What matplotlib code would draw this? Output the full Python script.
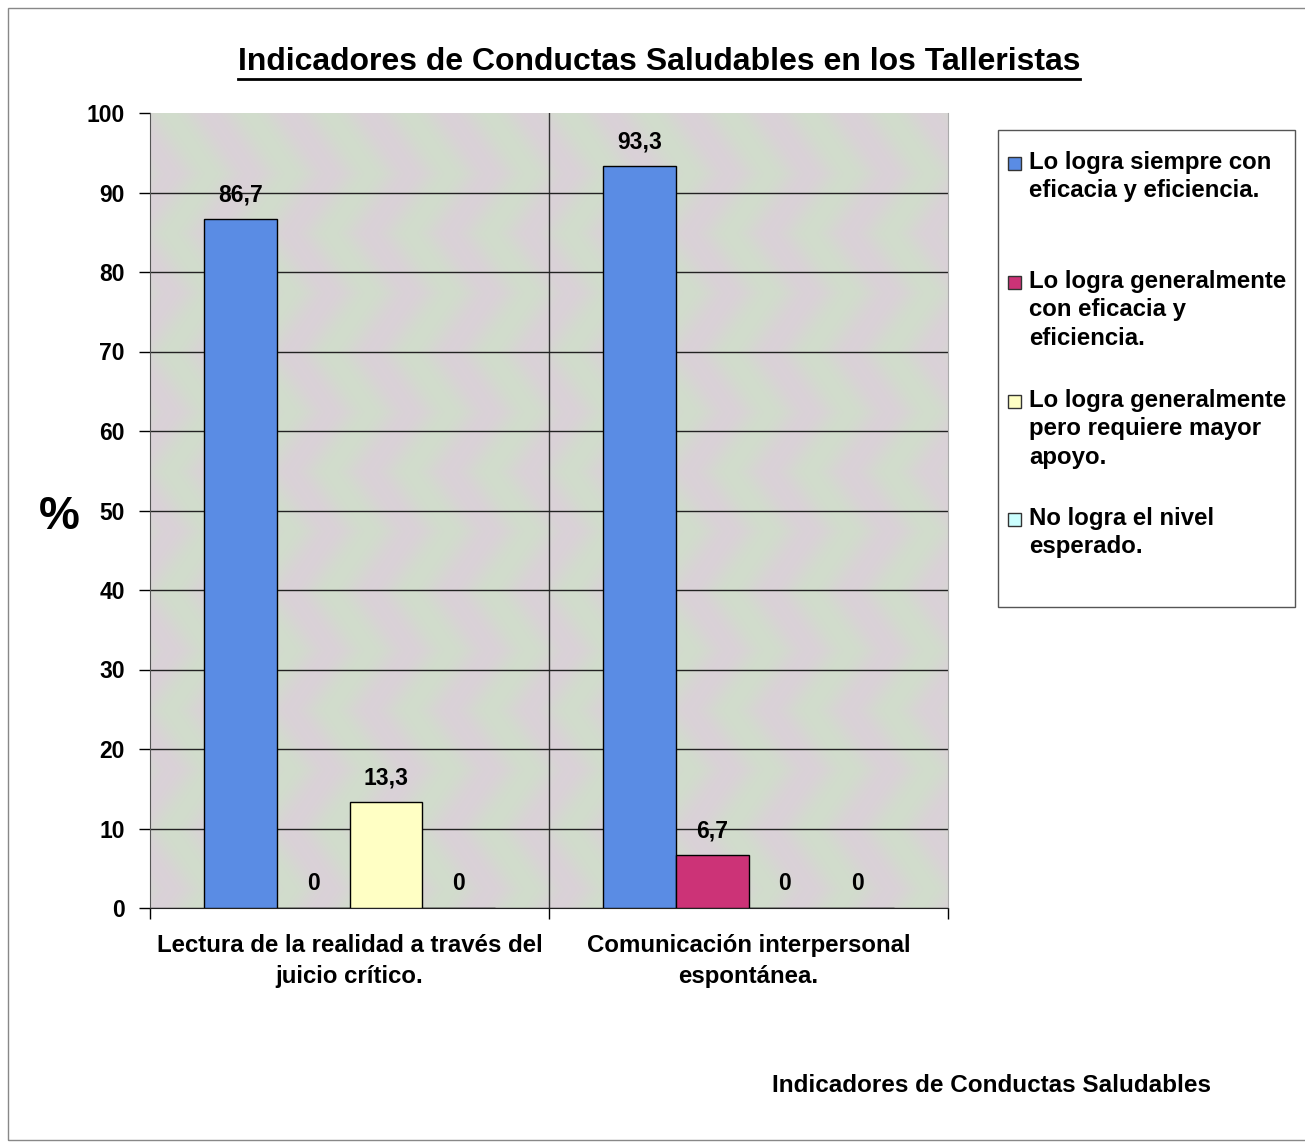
import matplotlib.pyplot as plt
from matplotlib.patches import Rectangle
import numpy as np

# data
categories = ['Lectura de la realidad a través del\njuicio crítico.',
              'Comunicación interpersonal\nespontánea.']
series_names = ['Lo logra siempre con\neficacia y eficiencia.',
                'Lo logra generalmente\ncon eficacia y\neficiencia.',
                'Lo logra generalmente\npero requiere mayor\napoyo.',
                'No logra el nivel\nesperado.']
siempre = [86.7, 93.3]
generalmente = [0, 6.7]
apoyo = [13.3, 0]
no_logra = [0, 0]
series_values = [siempre, generalmente, apoyo, no_logra]
colors = ['#5a8ce4', '#cc3377', '#ffffc4', '#ccffff']

plt.rcParams['font.family'] = ['Liberation Sans', 'DejaVu Sans']
plt.rcParams['font.weight'] = 'bold'

fig = plt.figure(figsize=(13.05, 11.47), dpi=100)
W, H = 1305, 1147

def fx(px):
    return px / W

def fy(py):
    return 1 - py / H

# outer frame
fig.patches.append(Rectangle((fx(8), fy(1140)), fx(1310) - fx(8), fy(8) - fy(1140),
                             transform=fig.transFigure, fill=False,
                             edgecolor='#888888', linewidth=1))

ax = fig.add_axes([fx(150), fy(908), fx(948) - fx(150), fy(113) - fy(908)])

# soft pastel texture for the plot area background (decoration only)
yy, xx = np.mgrid[0:400, 0:400]
tri = np.abs(((yy / 30.0) % 2) - 1)
phase = 2 * np.pi * (xx / 40.0 + 0.5 * tri)
pink = np.array([0.855, 0.82, 0.845])
green = np.array([0.82, 0.865, 0.80])
w = (0.5 + 0.5 * np.sin(phase))[..., None]
tex = w * pink + (1 - w) * green
ax.imshow(tex, extent=(-0.5, 1.5, 0, 100), aspect='auto', zorder=0,
          interpolation='bilinear')

x = np.arange(len(categories))
width = 0.1825
for i, (vals, c) in enumerate(zip(series_values, colors)):
    pos = x + (i - 1.5) * width
    bars = ax.bar(pos, vals, width, color=c, edgecolor='black', linewidth=1, zorder=3)
    for b, v in zip(bars, vals):
        lab = str(v).replace('.', ',') if v != 0 else '0'
        ax.annotate(lab, (b.get_x() + b.get_width() / 2, v), xytext=(0, 9),
                    textcoords='offset points', ha='center', va='bottom',
                    fontsize=16.5, fontweight='bold', zorder=4)

ax.set_xlim(-0.5, 1.5)
ax.set_ylim(0, 100)
ax.set_yticks(range(0, 101, 10))
ax.tick_params(axis='y', labelsize=16.5, length=8, width=1, pad=10)
ax.yaxis.grid(True, color='#222222', linewidth=1, zorder=1)
ax.get_ygridlines()[-1].set_visible(False)

ax.set_xticks(x)
ax.set_xticklabels(categories, fontsize=17.3, fontweight='bold', linespacing=1.42)
ax.tick_params(axis='x', length=0, pad=19)
ax.set_xticks([-0.5, 0.5, 1.5], minor=True)
ax.tick_params(axis='x', which='minor', length=8, width=1)
ax.axvline(0.5, color='#333333', linewidth=1, zorder=1)

ax.spines['top'].set_visible(False)
ax.spines['right'].set_color('#aaaaaa')
ax.spines['left'].set_color('#555555')
ax.spines['bottom'].set_color('#222222')

fig.text(fx(659), fy(62), 'Indicadores de Conductas Saludables en los Talleristas',
         ha='center', va='center', fontsize=23, fontweight='bold')
fig.text(fx(59), fy(517), '%', ha='center', va='center', fontsize=33, fontweight='bold')
fig.text(fx(992), fy(1085), 'Indicadores de Conductas Saludables',
         ha='center', va='center', fontsize=17.5, fontweight='bold')

# legend box
fig.patches.append(Rectangle((fx(998), fy(607)), fx(1295) - fx(998), fy(130) - fy(607),
                             transform=fig.transFigure, facecolor='white',
                             edgecolor='#555555', linewidth=1))
tops = [151, 270, 389, 507]
for name, c, t in zip(series_names, colors, tops):
    fig.patches.append(Rectangle((fx(1008), fy(t + 19)), fx(1021) - fx(1008), fy(t + 6) - fy(t + 19),
                                 transform=fig.transFigure, facecolor=c,
                                 edgecolor='#333333', linewidth=1))
    fig.text(fx(1029), fy(t), name, ha='left', va='top', fontsize=17.3,
             fontweight='bold', linespacing=1.3)

# underline the title
fig.canvas.draw()
tt = fig.texts[0]
bb = tt.get_window_extent()
fig.lines.append(plt.Line2D([bb.x0 / W, bb.x1 / W], [bb.y0 / H - 0.002, bb.y0 / H - 0.002],
                            transform=fig.transFigure, color='black', linewidth=2))

fig.savefig('out.png', dpi=100)
